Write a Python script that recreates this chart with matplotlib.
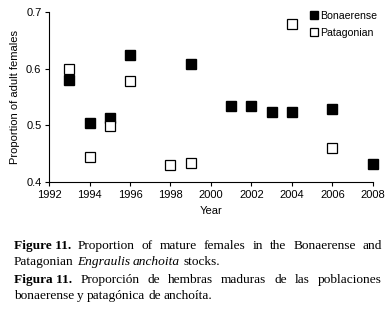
import matplotlib.pyplot as plt

plt.rcParams['font.family'] = ['Liberation Sans', 'DejaVu Sans']

bon_years = [1993, 1994, 1995, 1996, 1999, 2001, 2002, 2003, 2004, 2006, 2008]
bon_prop = [0.580, 0.504, 0.513, 0.623, 0.608, 0.534, 0.534, 0.523, 0.523, 0.529, 0.432]

pat_years = [1993, 1994, 1995, 1996, 1998, 1999, 2004, 2006]
pat_prop = [0.599, 0.444, 0.499, 0.578, 0.430, 0.433, 0.679, 0.460]

xticks = list(range(1992, 2009, 2))
yticks = [0.4, 0.5, 0.6, 0.7]

fig = plt.figure(figsize=(3.86, 3.12), dpi=100)
ax = fig.add_axes([0.127, 0.417, 0.839, 0.545])

ax.plot(bon_years, bon_prop, 's', color='black', markersize=6.6, label='Bonaerense', clip_on=False)
ax.plot(pat_years, pat_prop, 's', markerfacecolor='white', markeredgecolor='black',
        markersize=6.6, markeredgewidth=0.9, label='Patagonian', clip_on=False)

ax.set_xlim(1992, 2008)
ax.set_ylim(0.4, 0.7)
ax.set_xticks(xticks)
ax.set_yticks(yticks)
ax.set_yticklabels([f'{v:.1f}' for v in yticks])
ax.tick_params(labelsize=8, length=3, width=0.8, pad=2.5)
ax.spines['top'].set_visible(False)
ax.spines['right'].set_visible(False)
ax.set_xlabel('Year', fontsize=8, labelpad=5)
ax.set_ylabel('Proportion of adult females', fontsize=8, labelpad=4)

ax.legend(loc='upper right', frameon=False, fontsize=7.6, handlelength=0.6,
          handletextpad=0.2, borderaxespad=0.0, labelspacing=0.65,
          markerscale=0.8, bbox_to_anchor=(1.025, 1.03))

# caption, drawn word by word so that full lines can be justified
lines = [
    ([('Figure 11.', 'bold'), ('Proportion', ''), ('of', ''), ('mature', ''), ('females', ''),
      ('in', ''), ('the', ''), ('Bonaerense', ''), ('and', '')], True, 249),
    ([('Patagonian', ''), ('Engraulis', 'italic'), ('anchoita', 'italic'), ('stocks.', '')], False, 265),
    ([('Figura 11.', 'bold'), ('Proporción', ''), ('de', ''), ('hembras', ''), ('maduras', ''),
      ('de', ''), ('las', ''), ('poblaciones', '')], True, 283),
    ([('bonaerense', ''), ('y', ''), ('patagónica', ''), ('de', ''), ('anchoíta.', '')], False, 299),
]

W, H = 386, 312
x0, x1 = 14, 382
fig.canvas.draw()
renderer = fig.canvas.get_renderer()
for words, justify, ybase in lines:
    texts = []
    for w, style in words:
        t = fig.text(0, 1 - ybase / H, w, fontsize=9.6, family=['Liberation Serif'],
                     fontweight='bold' if style == 'bold' else 'normal',
                     fontstyle='italic' if style == 'italic' else 'normal',
                     va='baseline', ha='left')
        texts.append(t)
    widths = [t.get_window_extent(renderer).width for t in texts]
    space = 3.0
    if justify:
        space = (x1 - x0 - sum(widths)) / (len(widths) - 1)
    x = x0
    for t, w in zip(texts, widths):
        t.set_x(x / W)
        x += w + space

fig.savefig('out.png', dpi=100)
